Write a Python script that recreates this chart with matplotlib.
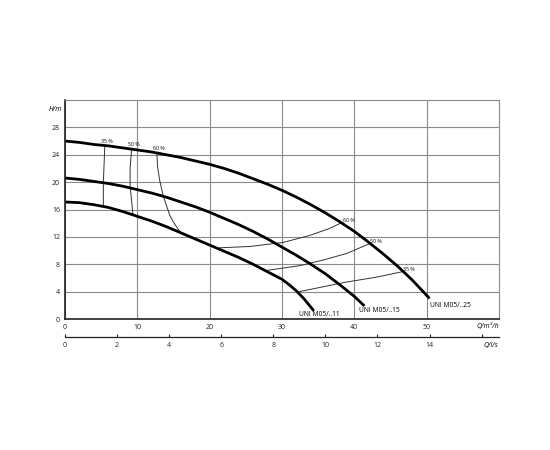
import matplotlib
matplotlib.use('Agg')
import matplotlib.pyplot as plt

plt.rcParams['font.family'] = ['Open Sans', 'DejaVu Sans']

# pump curves, Q in m3/h, H in m
q_25 = [0, 2, 4, 6, 8, 10, 12, 14, 16, 18, 20, 22, 24, 26, 28, 30, 32, 34,
        36, 38, 40, 42, 44, 46, 48, 50.4]
h_25 = [26.0, 25.8, 25.5, 25.3, 25.0, 24.7, 24.4, 24.0, 23.6, 23.1, 22.6,
        22.0, 21.3, 20.5, 19.7, 18.8, 17.8, 16.7, 15.5, 14.2, 12.8, 11.2,
        9.5, 7.7, 5.7, 3.0]
q_15 = [0, 2, 4, 6, 8, 10, 12, 14, 16, 18, 20, 22, 24, 26, 28, 30, 32, 34,
        36, 38, 40, 41.4]
h_15 = [20.6, 20.4, 20.1, 19.8, 19.4, 18.9, 18.4, 17.8, 17.1, 16.4, 15.6,
        14.7, 13.8, 12.8, 11.7, 10.5, 9.3, 8.0, 6.6, 5.0, 3.3, 1.9]
q_11 = [0, 2, 4, 6, 8, 10, 12, 14, 16, 18, 20, 22, 24, 26, 28, 30, 31, 32,
        33, 34.4]
h_11 = [17.1, 17.0, 16.7, 16.3, 15.7, 15.0, 14.3, 13.5, 12.6, 11.7, 10.8,
        9.9, 9.0, 8.0, 6.9, 5.8, 5.0, 4.1, 3.0, 1.2]
curve_names = ['UNI M05/..25', 'UNI M05/..15', 'UNI M05/..11']
curve_label_q = [50.4, 40.6, 32.3]
curve_label_h = [1.9, 1.2, 0.7]

# efficiency lines, low flow side
eta_left_names = ['35 %', '50 %', '60 %']
q_eta35_l = [5.5, 5.4, 5.3, 5.3]
h_eta35_l = [25.3, 22.5, 20.0, 16.6]
q_eta50_l = [9.2, 9.0, 9.0, 9.4]
h_eta50_l = [24.8, 22.0, 19.5, 15.2]
q_eta60_l = [12.7, 12.8, 13.1, 13.6, 14.5, 15.2, 16.0]
h_eta60_l = [24.3, 22.2, 20.2, 17.9, 15.1, 13.8, 12.6]

# efficiency lines, high flow side
eta_right_names = ['60 %', '50 %', '35 %']
q_eta60_r = [21.3, 25.6, 30.2, 33.8, 36.5, 38.3]
h_eta60_r = [10.4, 10.6, 11.2, 12.2, 13.2, 14.1]
q_eta50_r = [27.9, 32.5, 36.0, 39.0, 42.1]
h_eta50_r = [7.1, 7.8, 8.7, 9.6, 11.0]
q_eta35_r = [32.4, 38.9, 43.0, 46.6]
h_eta35_r = [4.0, 5.4, 6.1, 6.9]

q_ticks = [0, 10, 20, 30, 40, 50]
h_ticks = [0, 4, 8, 12, 16, 20, 24, 28]
ls_ticks = [0, 2, 4, 6, 8, 10, 12, 14, 16]
ls_labels = ['0', '2', '4', '6', '8', '10', '12', '14', '']

W, H = 550, 450
fig = plt.figure(figsize=(5.5, 4.5), dpi=100)
ax = fig.add_axes([65 / W, 131 / H, 434 / W, 219 / H])
ax.set_xlim(0, 60)
ax.set_ylim(0, 32)
ax.set_xticks(q_ticks)
ax.set_yticks(h_ticks)
ax.tick_params(length=0, labelsize=5, pad=3.5, colors='#222')
ax.grid(color='#8a8a8a', linewidth=0.8)
ax.set_axisbelow(True)
for s in ['top', 'right']:
    ax.spines[s].set_color('#8a8a8a')
    ax.spines[s].set_linewidth(0.8)
for s in ['left', 'bottom']:
    ax.spines[s].set_color('#222')
    ax.spines[s].set_linewidth(1.2)

thin = dict(color='#333', linewidth=0.7)
for q, h in [(q_eta35_l, h_eta35_l), (q_eta50_l, h_eta50_l),
             (q_eta60_l, h_eta60_l), (q_eta60_r, h_eta60_r),
             (q_eta50_r, h_eta50_r), (q_eta35_r, h_eta35_r)]:
    ax.plot(q, h, **thin)

for q, h in [(q_25, h_25), (q_15, h_15), (q_11, h_11)]:
    ax.plot(q, h, color='black', linewidth=2.0, solid_capstyle='butt')

# efficiency labels
fs_eta = 3.8
for name, q, h in zip(eta_left_names, [q_eta35_l, q_eta50_l, q_eta60_l],
                      [h_eta35_l, h_eta50_l, h_eta60_l]):
    ax.text(q[0] + 0.3, h[0] + 0.3, name, fontsize=fs_eta, ha='center',
            va='bottom')
for name, q, h in zip(eta_right_names, [q_eta60_r, q_eta50_r, q_eta35_r],
                      [h_eta60_r, h_eta50_r, h_eta35_r]):
    ax.text(q[-1] + 0.1, h[-1] + 0.3, name, fontsize=fs_eta, ha='left',
            va='center')

# curve labels
for name, q, h in zip(curve_names, curve_label_q, curve_label_h):
    ax.text(q, h, name, fontsize=4.8, ha='left', va='center')

ax.text(-0.4, 30.6, 'H/m', fontsize=5, ha='right', va='center',
        fontstyle='italic', clip_on=False)
ax.text(60, -1.15, 'Q/m³/h', fontsize=5, ha='right', va='center',
        fontstyle='italic', clip_on=False)

# second flow axis in l/s
ax2 = fig.add_axes([65 / W, (H - 336.5) / H, 434 / W, 0.001])
ax2.set_xlim(0, 60 / 3.6)
ax2.set_ylim(0, 1)
ax2.set_yticks([])
ax2.set_xticks(ls_ticks)
ax2.set_xticklabels(ls_labels)
ax2.tick_params(axis='x', direction='in', length=2.5, width=0.8,
                labelsize=5, pad=4, colors='#222')
ax2.patch.set_visible(False)
for s in ['top', 'right', 'left']:
    ax2.spines[s].set_visible(False)
ax2.spines['bottom'].set_color('#222')
ax2.spines['bottom'].set_linewidth(0.9)
fig.text(498 / W, (H - 346) / H, 'Q/l/s', fontsize=5, ha='right',
         va='center', fontstyle='italic')

fig.savefig('out.png', dpi=100)
